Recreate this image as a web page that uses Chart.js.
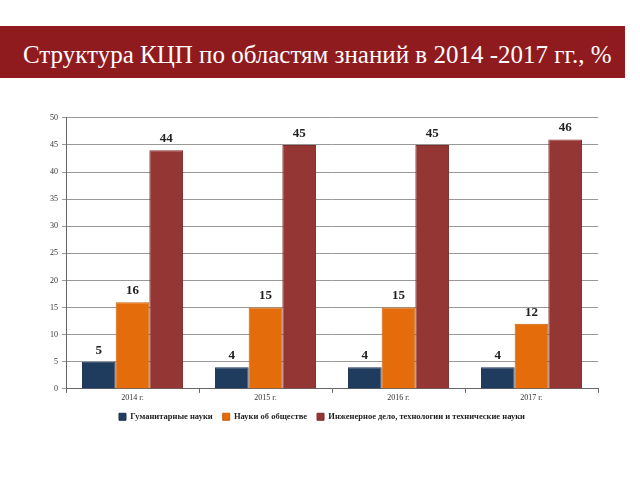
<!DOCTYPE html>
<html>
<head>
<meta charset="utf-8">
<script src="https://cdn.jsdelivr.net/npm/chart.js@4"></script>
<style>
    body { margin: 0; background: #fff; width: 640px; height: 480px; overflow: hidden; position: relative; }
    .banner {
        position: absolute; left: 0; top: 26px; width: 625px; height: 52px;
        background: #901b1e;
        color: #fff;
        font-family: "Liberation Serif", "DejaVu Serif", serif;
        font-size: 25px;
        line-height: 58px;
        padding-left: 23px;
        box-sizing: border-box;
        white-space: nowrap;
    }
    .wrap { position: absolute; left: 46px; top: 109px; width: 562px; height: 322px; }
</style>
</head>
<body>
<div class="banner">Структура КЦП по областям знаний в 2014 -2017 гг., %</div>
<div class="wrap"><canvas id="chart"></canvas></div>
<script>
const years = ['2014 г.', '2015 г.', '2016 г.', '2017 г.'];
const humanities = [5, 4, 4, 4];
const social = [16, 15, 15, 12];
const engineering = [44, 45, 45, 46];
const seriesNames = ['Гуманитарные науки', 'Науки об обществе', 'Инженерное дело, технологии и технические науки'];

const serif = '"Liberation Serif", "DejaVu Serif", serif';

const barLabels = {
    id: 'barLabels',
    afterDatasetsDraw(chart) {
        const ctx = chart.ctx;
        ctx.save();
        ctx.font = 'bold 13px ' + serif;
        ctx.fillStyle = '#222';
        ctx.textAlign = 'center';
        ctx.textBaseline = 'bottom';
        chart.data.datasets.forEach((ds, i) => {
            chart.getDatasetMeta(i).data.forEach((bar, j) => {
                ctx.fillText(ds.data[j], bar.x, bar.y - 5);
            });
        });
        ctx.restore();
    }
};

new Chart(document.getElementById('chart'), {
    type: 'bar',
    data: {
        labels: years,
        datasets: [
            {label: seriesNames[0], data: humanities, backgroundColor: '#1f3b5e', borderColor: '#1a3350', borderWidth: 1},
            {label: seriesNames[1], data: social, backgroundColor: '#e46c0a', borderColor: '#c95f08', borderWidth: 1},
            {label: seriesNames[2], data: engineering, backgroundColor: '#943634', borderColor: '#7f2d2b', borderWidth: 1}
        ]
    },
    options: {
        responsive: true,
        maintainAspectRatio: false,
        animation: false,
        layout: {padding: {top: 6, right: 10}},
        datasets: {
            bar: {categoryPercentage: 0.76, barPercentage: 1.0}
        },
        scales: {
            x: {
                grid: {display: true, drawOnChartArea: false, drawTicks: true, tickLength: 4, color: '#666'},
                border: {color: '#666'},
                ticks: {color: '#333', font: {family: serif, size: 8}, padding: 0}
            },
            y: {
                min: 0,
                max: 50,
                ticks: {stepSize: 5, color: '#333', font: {family: serif, size: 8}, padding: 4},
                grid: {color: '#999', tickLength: 4, lineWidth: 1},
                border: {color: '#666'}
            }
        },
        plugins: {
            legend: {
                position: 'bottom',
                labels: {
                    boxWidth: 7,
                    boxHeight: 7,
                    padding: 10,
                    color: '#222',
                    font: {family: serif, size: 8.5, weight: 'bold'}
                }
            },
            tooltip: {enabled: false}
        }
    },
    plugins: [barLabels]
});
</script>
</body>
</html>
